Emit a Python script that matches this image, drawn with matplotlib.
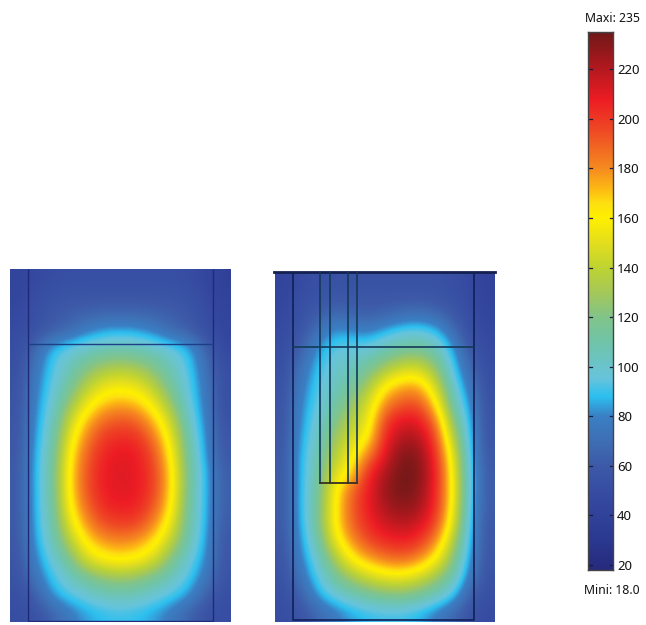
import numpy as np
import matplotlib
matplotlib.use("Agg")
import matplotlib.pyplot as plt
from matplotlib.colors import LinearSegmentedColormap, Normalize

W, H = 646, 625
plt.rcParams['font.family'] = ['Noto Sans', 'DejaVu Sans']

# temperature scale stops
scale_values = [18, 30, 45, 60, 70, 80, 88, 95, 100, 110, 120, 130, 140, 150, 160, 166, 172, 180, 195, 208, 220, 235]
scale_colors = ['#262a7c', '#2b3990', '#34479f', '#3d5aa8', '#3f6fb5', '#3a80c4', '#2cc0f0', '#66c4dc',
                '#6ac4cc', '#70c4a8', '#82c48a', '#a5c858', '#bfd432', '#e4de1e', '#fff000', '#fde010', '#fdb814',
                '#f68b1f', '#ef4b25', '#ed1c24', '#b5191f', '#701818']

tick_values = [20, 40, 60, 80, 100, 120, 140, 160, 180, 200, 220]
max_label = 'Maxi: 235'
min_label = 'Mini: 18.0'

# field (rows top to bottom)
left_field = [
 [42,47,50,52,52,52,52,52,52,52,50,45,38],
 [44,50,54,56,56,56,56,56,56,56,54,48,40],
 [46,53,58,62,64,66,66,66,64,62,58,51,42],
 [48,54,62,68,78,84,86,84,78,68,62,52,44],
 [50,68,88,96,102,106,108,106,102,96,88,66,46],
 [52,74,92,104,118,128,132,128,118,104,92,72,50],
 [54,78,94,112,134,150,154,150,134,112,94,76,52],
 [55,80,98,124,152,168,172,168,152,124,96,78,52],
 [56,82,102,140,170,186,192,188,170,140,102,80,54],
 [57,84,106,152,182,200,204,202,184,152,108,82,57],
 [58,86,110,160,190,206,210,208,194,160,112,84,58],
 [59,87,112,164,194,208,211,209,198,166,114,88,62],
 [59,87,112,164,194,208,211,209,198,166,114,88,62],
 [59,87,110,160,188,204,208,206,192,162,112,88,62],
 [59,86,108,150,178,194,198,196,180,152,110,87,60],
 [58,84,104,134,164,176,180,176,164,138,106,85,58],
 [56,80,96,116,146,158,162,158,146,118,98,82,57],
 [54,74,90,102,114,124,128,124,114,104,92,76,55],
 [52,62,84,92,98,104,106,104,98,92,84,64,52],
 [50,54,64,76,84,88,90,88,84,76,64,54,50],
]

# field (rows top to bottom)
right_field = [
 [42,48,52,54,54,54,54,54,54,54,52,47,40],
 [44,51,55,58,58,58,58,58,58,57,54,48,42],
 [46,54,61,70,66,63,66,72,74,70,60,50,44],
 [48,57,72,86,84,80,90,96,98,92,72,53,46],
 [50,64,84,95,98,100,108,116,118,110,86,60,48],
 [52,72,88,100,104,114,130,144,146,126,92,68,50],
 [54,76,92,104,112,130,162,174,176,146,100,76,52],
 [55,80,94,110,124,146,180,192,194,166,108,82,54],
 [56,82,98,118,136,152,198,212,210,186,124,86,55],
 [57,84,102,128,146,160,206,222,222,198,140,88,56],
 [58,86,106,136,156,182,212,232,230,204,154,90,58],
 [59,86,110,148,165,204,222,235,232,208,160,92,60],
 [59,86,112,158,188,208,226,235,230,206,162,92,60],
 [59,86,114,160,190,208,222,228,224,204,160,90,60],
 [59,84,114,160,188,204,214,218,214,196,152,88,58],
 [57,82,106,150,176,194,202,206,200,180,136,86,57],
 [56,78,98,128,158,172,182,186,178,158,122,82,56],
 [54,72,92,112,128,142,150,152,144,128,108,76,54],
 [52,62,84,96,104,112,118,120,114,104,92,62,52],
 [50,55,66,76,84,88,90,90,86,78,66,55,48],
]

cmap = LinearSegmentedColormap.from_list(
    'thermal', [((v - 18) / (235 - 18), c) for v, c in zip(scale_values, scale_colors)], N=512)
norm = Normalize(18, 235)

fig = plt.figure(figsize=(W / 100, H / 100), dpi=100)


def px_axes(x0, y0, x1, y1):
    return fig.add_axes([x0 / W, 1 - y1 / H, (x1 - x0) / W, (y1 - y0) / H])


def panel(field, x0, y0, x1, y1, pad=0):
    ax = px_axes(x0 - pad, y0 - pad, x1 + pad, y1 + pad)
    ax.imshow(np.array(field, float), cmap=cmap, norm=norm, aspect='auto',
              interpolation='bicubic', interpolation_stage='data',
              extent=(x0, x1, y1, y0))
    ax.set_xlim(x0 - pad, x1 + pad)
    ax.set_ylim(y1 + pad, y0 - pad)
    ax.axis('off')
    return ax


# left
ax = panel(left_field, 10, 269, 231, 622)
ln = dict(color='#1f2a78', lw=1.0, solid_capstyle='butt')
ax.plot([28, 28, 213, 213], [269, 621, 621, 269], **ln)
ax.plot([28, 213], [344, 344], color='#1c3f86', lw=1.0)

# right
ax = panel(right_field, 275, 272, 495, 622, pad=3)
dk = dict(color='#10205a', lw=1.2, solid_capstyle='butt')
ax.plot([274, 495], [272, 272], color='#14204f', lw=2.0)
ax.plot([293, 293, 474, 474], [272, 620, 620, 272], **dk)
ax.plot([293, 474], [347, 347], color='#123a5a', lw=1.2)
for xp in (320, 330, 348, 357):
    ax.plot([xp, xp], [272, 483], color='#123a5a', lw=1.2)
ax.plot([320, 357], [483, 483], color='#3a3020', lw=1.3)

# colorbar
cax = px_axes(588, 32, 613, 570)
grad = np.linspace(235, 18, 512)[:, None]
cax.imshow(grad, cmap=cmap, norm=norm, aspect='auto', extent=(0, 1, 18, 235))
cax.set_xlim(0, 1)
cax.set_ylim(18, 235)
cax.set_xticks([])
cax.yaxis.tick_right()
cax.set_yticks(tick_values)
cax.set_yticklabels([str(t) for t in tick_values], fontsize=9.5, color='#111111')
cax.tick_params(axis='y', length=0, pad=3)
for t in tick_values:
    cax.plot([0, 0.14], [t, t], color='#1a1a40', lw=0.9)
    cax.plot([0.86, 1], [t, t], color='#1a1a40', lw=0.9)
for s in cax.spines.values():
    s.set_color('#444444')
    s.set_linewidth(1.0)
fig.text(612 / W, 1 - 18 / H, max_label, ha='center', va='center', fontsize=8.8, color='#111111')
fig.text(612 / W, 1 - 591 / H, min_label, ha='center', va='center', fontsize=8.8, color='#111111')

fig.savefig('out.png', dpi=100, facecolor='white')
